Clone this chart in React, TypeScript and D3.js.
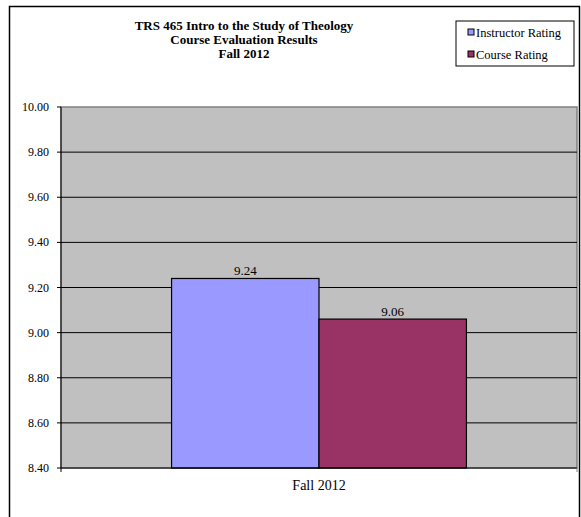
import React from "react";
import * as d3 from "d3";

const categories = ["Fall 2012"];
const seriesNames = ["Instructor Rating", "Course Rating"];
const seriesColors = ["#9999FF", "#993366"];
const instructorValues = [9.24];
const courseValues = [9.06];
const yTicks = [8.4, 8.6, 8.8, 9.0, 9.2, 9.4, 9.6, 9.8, 10.0];
const titleLines = ["TRS 465 Intro to the Study of Theology", "Course Evaluation Results", "Fall 2012"];

const W = 581;
const H = 517;
const plot = { left: 61, right: 577, top: 107, bottom: 468 };
const font = "Liberation Serif, Times New Roman, serif";

export default function App() {
  const y = d3.scaleLinear().domain([8.4, 10.0]).range([plot.bottom, plot.top]);
  const x0 = d3
    .scaleBand<string>()
    .domain(categories)
    .range([plot.left, plot.right])
    .paddingInner(0)
    .paddingOuter(0);
  const bw = x0.bandwidth();
  const barW = bw / (seriesNames.length + 1.5);
  const x1 = d3
    .scaleBand<number>()
    .domain(d3.range(seriesNames.length))
    .range([0, barW * seriesNames.length]);
  const series = [instructorValues, courseValues];

  return (
    <svg
      width={W}
      height={H}
      style={{ position: "absolute", left: 0, top: 0, background: "#fff", fontFamily: font }}
    >
      <rect x={9.5} y={6.5} width={570} height={520} fill="#fff" stroke="#000" strokeWidth={1.5} />
      {titleLines.map((t, i) => (
        <text
          key={i}
          x={244}
          y={29.5 + i * 14}
          textAnchor="middle"
          fontSize={13}
          fontWeight="bold"
          fill="#000"
          style={{ fontFamily: font }}
        >
          {t}
        </text>
      ))}
      <rect
        x={plot.left}
        y={plot.top}
        width={plot.right - plot.left}
        height={plot.bottom - plot.top}
        fill="#C0C0C0"
        stroke="#808080"
        strokeWidth={1.5}
      />
      {yTicks.map((t) => (
        <g key={t}>
          {t > 8.4 && t < 10 && (
            <line x1={plot.left} x2={plot.right} y1={y(t)} y2={y(t)} stroke="#000" strokeWidth={1} />
          )}
          <line x1={plot.left - 4} x2={plot.left} y1={y(t)} y2={y(t)} stroke="#000" strokeWidth={1} />
          <text x={49} y={y(t) + 4} textAnchor="end" fontSize={12} fill="#000" style={{ fontFamily: font }}>
            {t.toFixed(2)}
          </text>
        </g>
      ))}
      {categories.map((c, ci) => {
        const gx = (x0(c) as number) + (bw - barW * seriesNames.length) / 2;
        return (
          <g key={c}>
            {series.map((vals, si) => {
              const bx = gx + (x1(si) as number);
              const by = y(vals[ci]);
              return (
                <g key={si}>
                  <rect
                    x={bx}
                    y={by}
                    width={x1.bandwidth()}
                    height={plot.bottom - by}
                    fill={seriesColors[si]}
                    stroke="#000"
                    strokeWidth={1.2}
                  />
                  <text
                    x={bx + x1.bandwidth() / 2}
                    y={by - 3}
                    textAnchor="middle"
                    fontSize={13}
                    fill="#000"
                    style={{ fontFamily: font }}
                  >
                    {vals[ci].toFixed(2)}
                  </text>
                </g>
              );
            })}
            <text
              x={(x0(c) as number) + bw / 2}
              y={490}
              textAnchor="middle"
              fontSize={14}
              fill="#000"
              style={{ fontFamily: font }}
            >
              {c}
            </text>
          </g>
        );
      })}
      <line x1={plot.left} x2={plot.left} y1={plot.top} y2={plot.bottom} stroke="#000" strokeWidth={1} />
      <line x1={plot.left} x2={plot.right} y1={plot.bottom} y2={plot.bottom} stroke="#000" strokeWidth={1} />
      <line x1={plot.left} x2={plot.left} y1={plot.bottom} y2={plot.bottom + 4} stroke="#000" strokeWidth={1} />
      <line x1={plot.right} x2={plot.right} y1={plot.bottom} y2={plot.bottom + 4} stroke="#808080" strokeWidth={1} />
      <rect x={456} y={21} width={118} height={45} fill="#fff" stroke="#000" strokeWidth={1} />
      {seriesNames.map((s, i) => (
        <g key={s}>
          <rect x={468} y={29 + i * 22} width={6} height={6} fill={seriesColors[i]} stroke="#000" strokeWidth={1} />
          <text x={476} y={36.5 + i * 22} fontSize={12.5} fill="#000" style={{ fontFamily: font }}>
            {s}
          </text>
        </g>
      ))}
    </svg>
  );
}
